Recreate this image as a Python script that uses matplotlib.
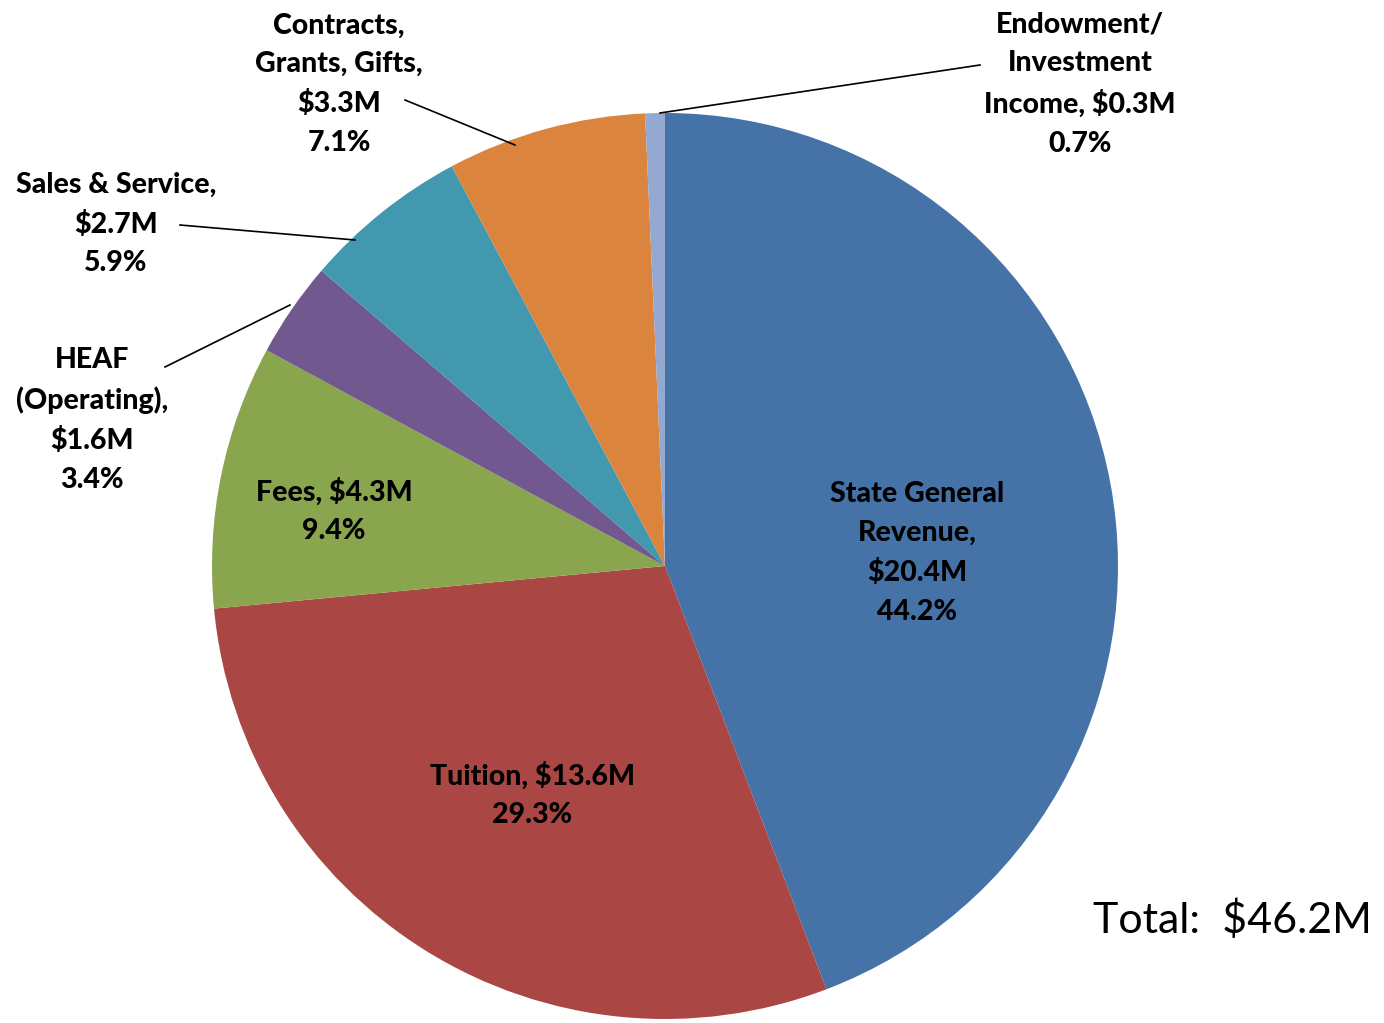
import matplotlib
matplotlib.use("Agg")
import matplotlib.pyplot as plt

# revenue sources, clockwise from 12 o'clock
sources = ["State General Revenue", "Tuition", "Fees", "HEAF (Operating)",
           "Sales & Service", "Contracts, Grants, Gifts", "Endowment/Investment Income"]
amounts = [20.4, 13.6, 4.3, 1.6, 2.7, 3.3, 0.3]   # $M
shares = [44.2, 29.3, 9.4, 3.4, 5.9, 7.1, 0.7]     # percent
total = 46.2

label_fmt = [
    "State General\nRevenue,\n${a}M\n{p}%",
    "Tuition, ${a}M\n{p}%",
    "Fees, ${a}M\n{p}%",
    "HEAF\n(Operating),\n${a}M\n{p}%",
    "Sales & Service,\n${a}M\n{p}%",
    "Contracts,\nGrants, Gifts,\n${a}M\n{p}%",
    "Endowment/\nInvestment\nIncome, ${a}M\n{p}%",
]
colors = ["#4572A7", "#AA4643", "#89A54E", "#71588F", "#4198AF", "#DB843D", "#93A9CF"]

W, H = 1384, 1023
fig = plt.figure(figsize=(W / 100, H / 100), dpi=100)
ax = fig.add_axes([0, 0, 1, 1])

cx, cy, r = 665, H - 566, 453
ax.pie(shares, colors=colors, startangle=90, counterclock=False,
       center=(cx, cy), radius=r, wedgeprops=dict(linewidth=0), frame=True)
ax.set_xlim(0, W)
ax.set_ylim(0, H)
ax.set_aspect("equal")
ax.axis("off")

# label anchor points (pixel coords, y from top) and leader lines
label_pos = [(917, 553), (532, 795), (334, 511), (92, 420), (116, 224), (339, 84), (1080, 84)]
leaders = {3: ((165, 367), (290, 305)),
           4: ((180, 225), (355, 240)),
           5: ((405, 100), (515, 145)),
           6: ((980, 65), (660, 113))}

for i, fmt in enumerate(label_fmt):
    txt = fmt.format(a=amounts[i], p=shares[i])
    x, y = label_pos[i]
    ax.text(x, H - y, txt, ha="center", va="center", family="Lato",
            fontweight="black", fontsize=20.5, linespacing=1.6, color="black")

for (x0, y0), (x1, y1) in leaders.values():
    ax.plot([x0, x1], [H - y0, H - y1], color="black", linewidth=1.2)

ax.text(1372, H - 920, "Total:  ${}M".format(total), ha="right", va="center",
        family="Lato", fontsize=31, color="black")

fig.savefig("out.png", dpi=100)
